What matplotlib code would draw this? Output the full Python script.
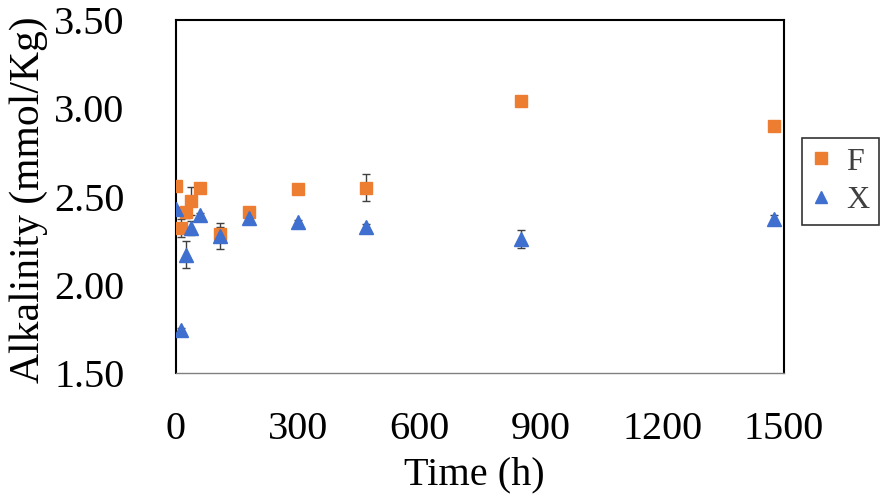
import matplotlib
matplotlib.use("Agg")
import matplotlib.pyplot as plt

# 데이터
time_h = [0, 12, 24, 36, 60, 108, 180, 300, 468, 852, 1476]
alk_F = [2.56, 2.32, 2.41, 2.475, 2.55, 2.29, 2.41, 2.54, 2.55, 3.04, 2.90]
err_F = [0.01, 0.05, 0.03, 0.08, 0.01, 0.04, 0.01, 0.02, 0.075, 0.01, 0.01]
alk_X = [2.43, 1.745, 2.17, 2.32, 2.395, 2.275, 2.38, 2.355, 2.33, 2.26, 2.375]
err_X = [0.01, 0.01, 0.077, 0.04, 0.01, 0.074, 0.01, 0.01, 0.015, 0.05, 0.02]

x_ticks = [0, 300, 600, 900, 1200, 1500]
y_ticks = [1.50, 2.00, 2.50, 3.00, 3.50]

plt.rcParams['font.family'] = ['Liberation Serif', 'DejaVu Serif']

fig = plt.figure(figsize=(8.86, 5.04), dpi=100)
ax = fig.add_axes([0.1986, 0.2599, 0.6863, 0.7004])

ax.errorbar(time_h, alk_F, yerr=err_F, fmt='s', color='#ED7D31', ms=9,
            ecolor='#404040', elinewidth=1, capsize=3, capthick=1, label='F', zorder=3)
ax.errorbar(time_h, alk_X, yerr=err_X, fmt='^', color='#3F6FCF', ms=10,
            ecolor='#404040', elinewidth=1, capsize=3, capthick=1, label='X', zorder=3)

ax.set_xlim(0, 1500)
ax.set_ylim(1.5, 3.5)
ax.set_xticks(x_ticks)
ax.set_yticks(y_ticks)
ax.set_yticklabels([f"{v:.2f}" for v in y_ticks])
ax.tick_params(axis='both', length=0, labelsize=29)
ax.tick_params(axis='y', pad=37)
ax.tick_params(axis='x', pad=27)
for s in ax.spines.values():
    s.set_linewidth(1.5)
    s.set_color('black')
ax.spines['bottom'].set_color('#808080')
ax.spines['bottom'].set_linewidth(1)

ax.set_xlabel("Time (h)", fontsize=29)
ax.xaxis.set_label_coords(0.49, -0.235)
ax.set_ylabel("Alkalinity (mmol/Kg)", fontsize=30)
ax.yaxis.set_label_coords(-0.21, 0.49)

handles, labels = ax.get_legend_handles_labels()
handles = [h[0] for h in handles]
leg = fig.legend(handles, labels, loc='upper left', bbox_to_anchor=(0.905, 0.727),
                 fontsize=23, frameon=True, fancybox=False, edgecolor='black',
                 handlelength=0.6, handletextpad=0.5, borderpad=0.3, labelspacing=0.3,
                 markerscale=0.9, borderaxespad=0)
leg.get_frame().set_linewidth(1.2)
for t in leg.get_texts():
    t.set_color('#404040')

fig.savefig("out.png", dpi=100)
